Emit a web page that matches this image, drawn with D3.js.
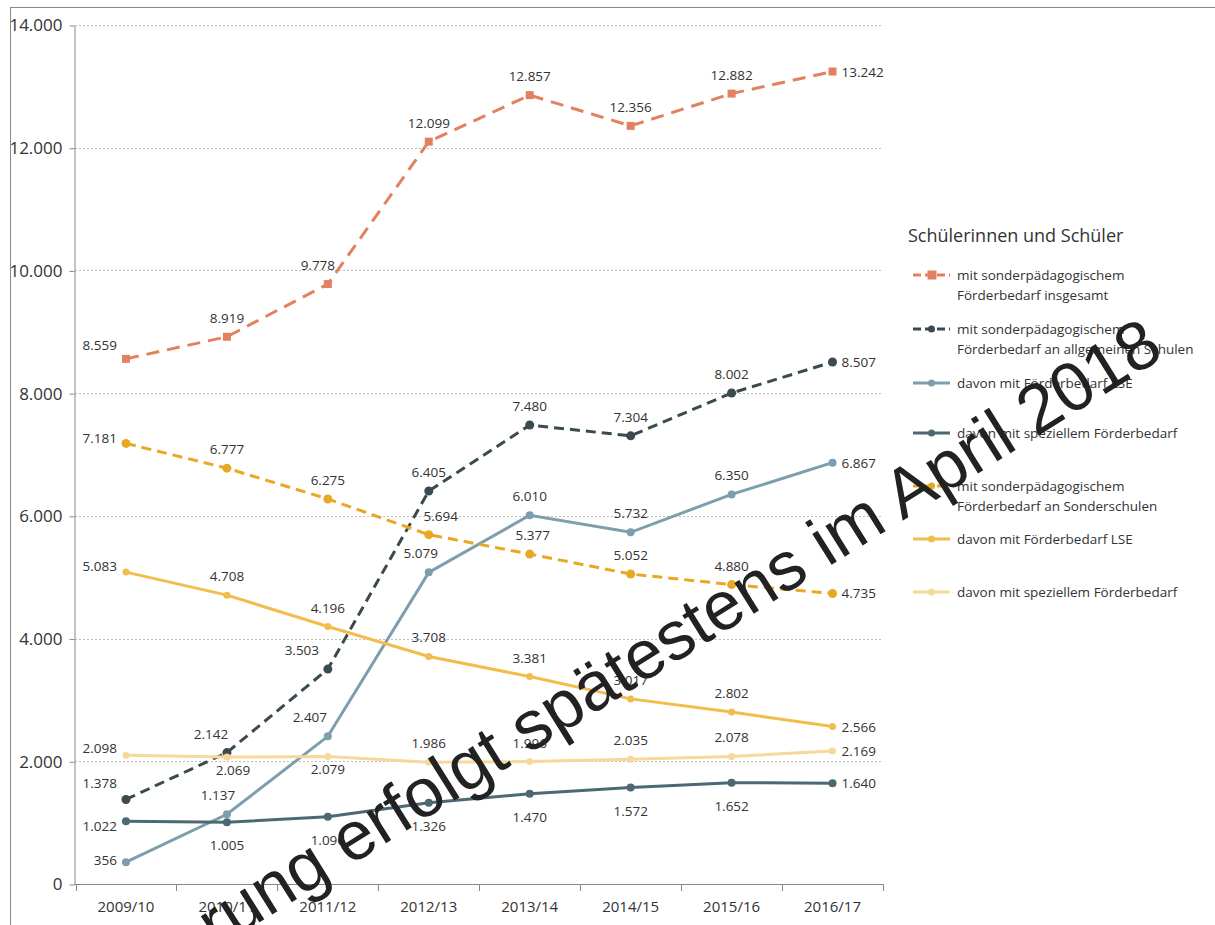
<!DOCTYPE html>
<meta charset="utf-8">
<script src="https://d3js.org/d3.v7.min.js"></script>
<style>
  body { margin: 0; background: #fff; }
  text { font-family: "Open Sans", "Noto Sans", sans-serif; fill: #333; }
</style>
<div id="chart"></div>
<script>

// Daten
var jahre = ["2009/10", "2010/11", "2011/12", "2012/13", "2013/14", "2014/15", "2015/16", "2016/17"];
var insgesamt         = [8559, 8919, 9778, 12099, 12857, 12356, 12882, 13242];
var allgemein         = [1378, 2142, 3503, 6405, 7480, 7304, 8002, 8507];
var allgemeinLSE      = [356, 1137, 2407, 5079, 6010, 5732, 6350, 6867];
var allgemeinSpeziell = [1022, 1005, 1096, 1326, 1470, 1572, 1652, 1640];
var sonder            = [7181, 6777, 6275, 5694, 5377, 5052, 4880, 4735];
var sonderLSE         = [5083, 4708, 4196, 3708, 3381, 3017, 2802, 2566];
var sonderSpeziell    = [2098, 2069, 2079, 1986, 1996, 2035, 2078, 2169];
var yTicks = [0, 2000, 4000, 6000, 8000, 10000, 12000, 14000];

var legendTitel = "Schülerinnen und Schüler";

// Darstellung der Reihen
var reihen = [
  {werte: insgesamt, name: ["mit sonderpädagogischem", "Förderbedarf insgesamt"],
   farbe: "#e2805f", dash: "13,8", marker: "square", r: 4, lage: "above", firstDy: -14,
   dx: [0, 0, -10, 0, 0, 0, 0, 0], legY: 275},
  {werte: allgemein, name: ["mit sonderpädagogischem", "Förderbedarf an allgemeinen Schulen"],
   farbe: "#3a4a50", dash: "10,6", marker: "circle", r: 4.5, lage: "above", firstDy: -16,
   dx: [0, -16, -26, 0, 0, 0, 0, 0], legY: 329},
  {werte: allgemeinLSE, name: ["davon mit Förderbedarf LSE"],
   farbe: "#7d9eac", dash: null, marker: "circle", r: 4, lage: "above", firstDy: -2,
   dx: [0, -9, -18, -8, 0, 0, 0, 0], legY: 383},
  {werte: allgemeinSpeziell, name: ["davon mit speziellem Förderbedarf"],
   farbe: "#4c6873", dash: null, marker: "circle", r: 4, lage: "below", firstDy: 5,
   dx: [0, 0, 0, 0, 0, 0, 0, 0], legY: 433},
  {werte: sonder, name: ["mit sonderpädagogischem", "Förderbedarf an Sonderschulen"],
   farbe: "#e9a823", dash: "10,6", marker: "circle", r: 4.5, lage: "above", firstDy: -5,
   dx: [0, 0, 0, 12, 3, 0, 0, 0], legY: 486},
  {werte: sonderLSE, name: ["davon mit Förderbedarf LSE"],
   farbe: "#f1bd4c", dash: null, marker: "circle", r: 3.5, lage: "above", firstDy: -6,
   dx: [0, 0, 0, 0, 0, 0, 0, 0], legY: 539},
  {werte: sonderSpeziell, name: ["davon mit speziellem Förderbedarf"],
   farbe: "#f6d99a", dash: null, marker: "circle", r: 3.5, lage: "below2", firstDy: -7,
   dx: [0, 6, 0, 0, 0, 0, 0, 0], legY: 592}
];

var width = 1215, height = 925;

var svg = d3.select("#chart")
  .append("svg")
    .attr("width", width)
    .attr("height", height);

// Rahmen
svg.append("rect")
  .attr("x", 10.5).attr("y", 7.5)
  .attr("width", 1300).attr("height", 1000)
  .attr("fill", "none")
  .attr("stroke", "#8a8a8a");

var de = d3.formatLocale({decimal: ",", thousands: ".", grouping: [3], currency: ["", " €"]});
var fmt = de.format(",");

// Achsen
var x = d3.scaleBand()
  .domain(jahre)
  .range([75.5, 883])
  .padding(0);

var y = d3.scaleLinear()
  .domain([0, 14000])
  .range([884, 25]);

// Gitterlinien
svg.append("g")
  .selectAll("line")
  .data(yTicks.slice(1))
  .enter()
  .append("line")
    .attr("x1", 75).attr("x2", 883)
    .attr("y1", function(d) { return Math.round(y(d)) + 0.5; })
    .attr("y2", function(d) { return Math.round(y(d)) + 0.5; })
    .attr("stroke", "#bdbdbd")
    .attr("stroke-dasharray", "2,2");

var yAxis = svg.append("g")
  .attr("transform", "translate(74.5,0.5)")
  .call(d3.axisLeft(y).tickValues(yTicks).tickFormat(fmt).tickSize(5).tickSizeOuter(0).tickPadding(7));
yAxis.select(".domain").attr("stroke", "#888");
yAxis.selectAll(".tick line").attr("stroke", "#888");
yAxis.selectAll(".tick text")
  .style("font-size", "17px")
  .attr("fill", "#333")
  .attr("x", -12);

var xAxis = svg.append("g")
  .attr("transform", "translate(0,884.5)")
  .call(d3.axisBottom(x).tickSize(0).tickSizeOuter(0).tickPadding(17));
xAxis.select(".domain").remove();
xAxis.selectAll(".tick text")
  .style("font-size", "15px")
  .attr("fill", "#333");

svg.append("line")
  .attr("x1", 74).attr("x2", 884)
  .attr("y1", 884.5).attr("y2", 884.5)
  .attr("stroke", "#888");

// Teilstriche an den Kategoriengrenzen
svg.append("g")
  .selectAll("line")
  .data(d3.range(jahre.length + 1))
  .enter()
  .append("line")
    .attr("x1", function(i) { return Math.round(x.range()[0] + i * x.step()) + 0.5; })
    .attr("x2", function(i) { return Math.round(x.range()[0] + i * x.step()) + 0.5; })
    .attr("y1", 884).attr("y2", 891)
    .attr("stroke", "#888");

var cx = function(i) { return x(jahre[i]) + x.bandwidth() / 2; };

var linie = d3.line()
  .x(function(d, i) { return cx(i); })
  .y(function(d) { return y(d); });

// Linien und Marker
reihen.forEach(function(s) {
  svg.append("path")
    .datum(s.werte)
    .attr("d", linie)
    .attr("fill", "none")
    .attr("stroke", s.farbe)
    .attr("stroke-width", 3)
    .attr("stroke-dasharray", s.dash);

  if (s.marker == "square") {
    svg.append("g").selectAll("rect")
      .data(s.werte)
      .enter()
      .append("rect")
        .attr("x", function(d, i) { return cx(i) - s.r; })
        .attr("y", function(d) { return y(d) - s.r; })
        .attr("width", s.r * 2).attr("height", s.r * 2)
        .attr("fill", s.farbe);
  } else {
    svg.append("g").selectAll("circle")
      .data(s.werte)
      .enter()
      .append("circle")
        .attr("cx", function(d, i) { return cx(i); })
        .attr("cy", function(d) { return y(d); })
        .attr("r", s.r)
        .attr("fill", s.farbe);
  }
});

// Datenbeschriftungen
reihen.forEach(function(s) {
  var n = s.werte.length;
  svg.append("g").selectAll("text")
    .data(s.werte)
    .enter()
    .append("text")
      .style("font-size", "13.5px")
      .attr("x", function(d, i) {
        if (i == 0) return cx(i) - 9;
        if (i == n - 1) return cx(i) + 9;
        return cx(i) + s.dx[i];
      })
      .attr("y", function(d, i) {
        if (i == 0) return y(d) + s.firstDy + 5;
        if (i == n - 1) return y(d) + 5;
        if (s.lage == "below") return y(d) + 28;
        if (s.lage == "below2") return i < 3 ? y(d) + 18 : y(d) - 14;
        return y(d) - 14;
      })
      .attr("text-anchor", function(d, i) {
        if (i == 0) return "end";
        if (i == n - 1) return "start";
        return "middle";
      })
      .text(function(d) { return fmt(d); });
});

// Legende
var leg = svg.append("g");
leg.append("text")
  .attr("x", 908).attr("y", 242)
  .style("font-size", "18px")
  .text(legendTitel);

reihen.forEach(function(s) {
  leg.append("line")
    .attr("x1", 913).attr("x2", 950)
    .attr("y1", s.legY).attr("y2", s.legY)
    .attr("stroke", s.farbe)
    .attr("stroke-width", 3)
    .attr("stroke-dasharray", s.dash ? "8,4" : null);
  if (s.marker == "square") {
    leg.append("rect")
      .attr("x", 927.5).attr("y", s.legY - 4.5)
      .attr("width", 9).attr("height", 9)
      .attr("fill", s.farbe);
  } else {
    leg.append("circle")
      .attr("cx", 931.5).attr("cy", s.legY)
      .attr("r", 3.5)
      .attr("fill", s.farbe);
  }
  var t = leg.append("text")
    .attr("x", 957).attr("y", s.legY + 5)
    .style("font-size", "13.5px");
  s.name.forEach(function(zeile, k) {
    t.append("tspan")
      .attr("x", 957)
      .attr("dy", k == 0 ? 0 : 20)
      .text(zeile);
  });
});

// Wasserzeichen
svg.append("text")
  .attr("transform", "translate(1166,356) rotate(-32)")
  .attr("text-anchor", "end")
  .style("font-family", "'Liberation Sans', Arial, sans-serif")
  .style("font-size", "69px")
  .style("fill", "#222")
  .text("Aktualisierung erfolgt spätestens im April 2018");

</script>
